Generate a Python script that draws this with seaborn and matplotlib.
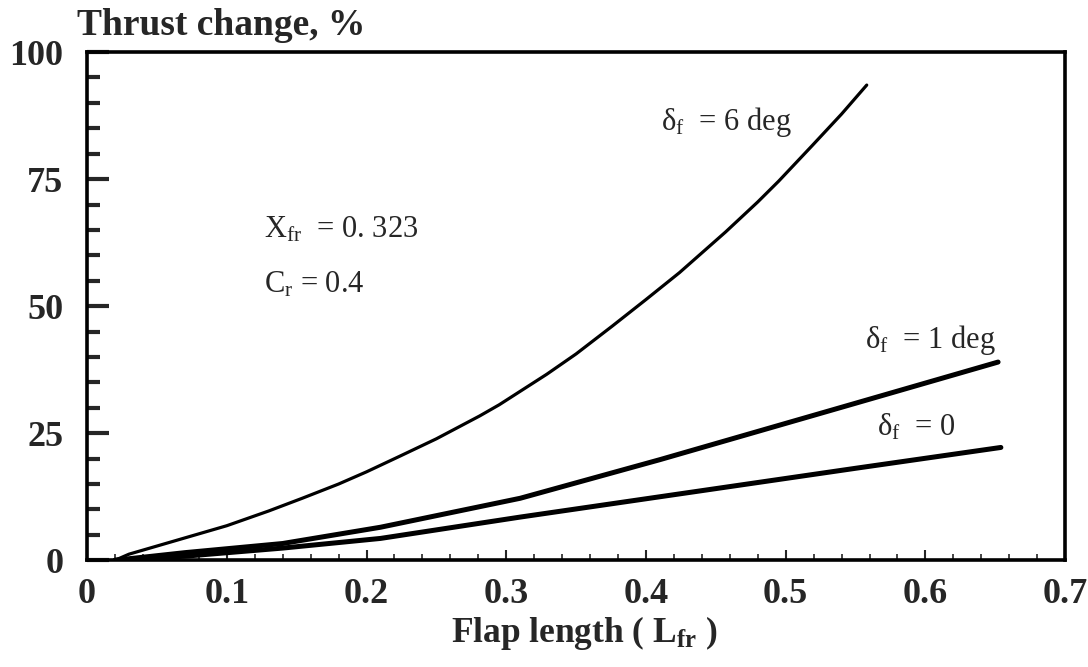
import pandas as pd
import matplotlib
matplotlib.use("Agg")
import matplotlib.pyplot as plt
from matplotlib.ticker import MultipleLocator
import seaborn as sns

# Curve data (flap length vs thrust change, %)
x_6deg = [0.02, 0.03, 0.06, 0.10, 0.13, 0.154, 0.18, 0.20, 0.224, 0.25, 0.281, 0.295, 0.329,
          0.35, 0.376, 0.40, 0.424, 0.457, 0.48, 0.495, 0.519, 0.54, 0.558]
y_6deg = [0.0, 1.2, 3.6, 6.8, 9.7, 12.2, 15.0, 17.4, 20.5, 23.9, 28.4, 30.6, 36.6,
          40.6, 46.1, 51.3, 56.6, 64.6, 70.5, 74.6, 81.6, 87.8, 93.5]

x_1deg = [0.02, 0.07, 0.14, 0.21, 0.31, 0.41, 0.55, 0.652]
y_1deg = [0.0, 1.5, 3.3, 6.5, 12.2, 19.8, 30.9, 39.0]

x_0deg = [0.02, 0.07, 0.14, 0.21, 0.31, 0.41, 0.55, 0.654]
y_0deg = [0.0, 0.8, 2.4, 4.3, 8.5, 12.5, 18.1, 22.2]

x_ticks = [0, 0.1, 0.2, 0.3, 0.4, 0.5, 0.6, 0.7]
x_ticklabels = ["0", "0.1", "0.2", "0.3", "0.4", "0.5", "0.6", "0.7"]
y_ticks = [0, 25, 50, 75, 100]

sns.set_theme(style="ticks")
plt.rcParams['font.family'] = ['Liberation Serif', 'DejaVu Serif']
plt.rcParams['mathtext.fontset'] = 'custom'
plt.rcParams['mathtext.rm'] = 'Liberation Serif'
plt.rcParams['mathtext.it'] = 'Liberation Serif:italic'
plt.rcParams['mathtext.bf'] = 'Liberation Serif:bold'

df = pd.concat([
    pd.DataFrame({'x': x_6deg, 'y': y_6deg, 'case': '6 deg'}),
    pd.DataFrame({'x': x_1deg, 'y': y_1deg, 'case': '1 deg'}),
    pd.DataFrame({'x': x_0deg, 'y': y_0deg, 'case': '0'}),
], ignore_index=True)

fig = plt.figure(figsize=(10.88, 6.67), dpi=100)
ax = fig.add_axes([0.080, 0.160, 0.899, 0.762])

widths = {'6 deg': 2.3, '1 deg': 3.6, '0': 3.6}
for case, sub in df.groupby('case', sort=False):
    sns.lineplot(data=sub, x='x', y='y', ax=ax, color='black',
                 linewidth=widths[case], sort=False, estimator=None,
                 solid_joinstyle='round', solid_capstyle='round')

ax.set_xlim(0, 0.7)
ax.set_ylim(0, 100)
ax.set_xticks(x_ticks)
ax.set_xticklabels(x_ticklabels)
ax.set_yticks(y_ticks)
ax.xaxis.set_minor_locator(MultipleLocator(0.02))
ax.yaxis.set_minor_locator(MultipleLocator(5))

for s in ax.spines.values():
    s.set_linewidth(2.6)
    s.set_color('black')

ax.tick_params(axis='y', which='major', direction='in', length=16, width=3, pad=17)
ax.tick_params(axis='y', which='minor', direction='in', length=9, width=3)
ax.tick_params(axis='x', which='major', direction='in', length=7, width=1.5, pad=13)
ax.tick_params(axis='x', which='minor', direction='in', length=4, width=1.2)
for lab in ax.get_xticklabels() + ax.get_yticklabels():
    lab.set_fontsize(26)
    lab.set_fontweight('bold')

ax.set_xlabel(r"Flap length ( L$_{\mathbf{fr}}$ )", fontsize=25.5, fontweight='bold', labelpad=2)
ax.xaxis.label.set_x(0.508)
ax.set_ylabel("")
fig.text(0.071, 1 - 35 / 667, "Thrust change, %", fontsize=27, fontweight='bold',
         ha='left', va='baseline')

ax.text(0.411, 84.6, r"δ$_{\rm f}$  = 6 deg", fontsize=22, ha='left', va='baseline')
ax.text(0.557, 41.7, r"δ$_{\rm f}$  = 1 deg", fontsize=22, ha='left', va='baseline')
ax.text(0.565, 24.6, r"δ$_{\rm f}$  = 0", fontsize=22, ha='left', va='baseline')
ax.text(0.127, 63.6, r"X$_{\rm fr}$  = 0. 323", fontsize=22, ha='left', va='baseline')
ax.text(0.127, 52.7, r"C$_{\rm r}$ = 0.4", fontsize=22, ha='left', va='baseline')

ax.set_facecolor('white')
fig.savefig("out.png", dpi=100, facecolor='white')
